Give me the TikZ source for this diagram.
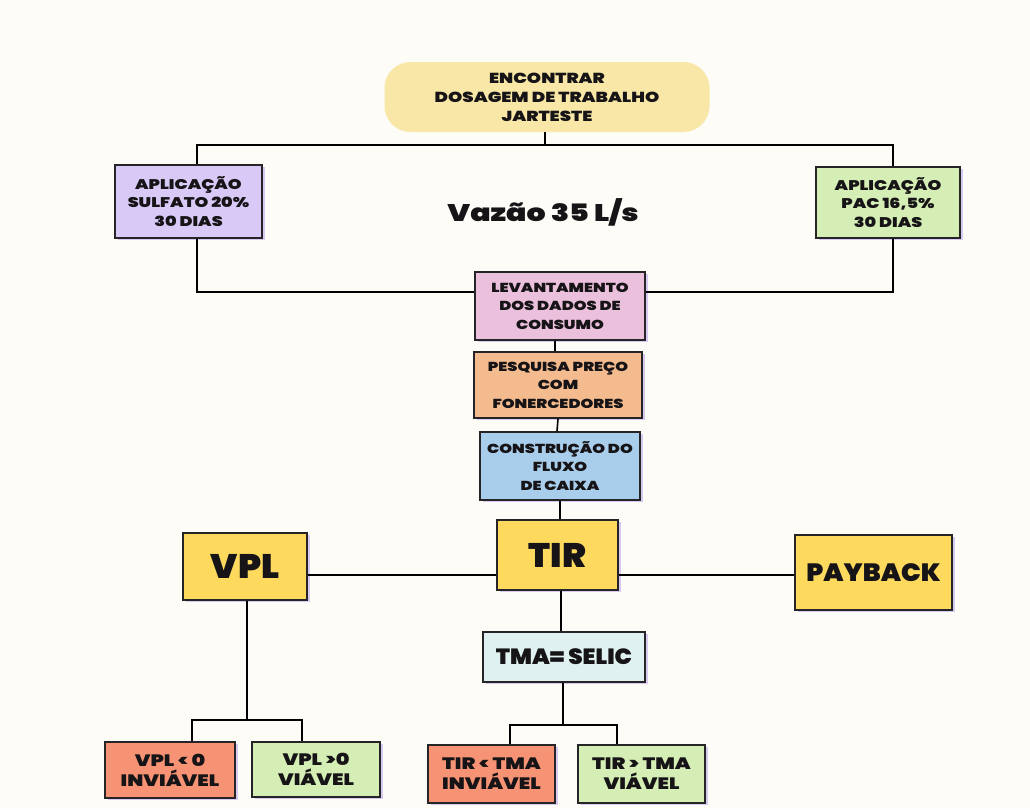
\documentclass[tikz,border=0pt]{standalone}
\usepackage{fontspec}
\usetikzlibrary{shadows}
\newfontfamily\heavyfont{Poppins Black}[FakeStretch=1.25]
\newfontfamily\titlefont{Poppins Black}[FakeStretch=1.05]

\definecolor{paper}{RGB}{253,252,247}
\definecolor{ink}{RGB}{38,36,38}
\definecolor{blobyellow}{RGB}{248,231,166}
\definecolor{lavender}{RGB}{216,201,247}
\definecolor{leafgreen}{RGB}{213,238,181}
\definecolor{rosepink}{RGB}{235,192,220}
\definecolor{peach}{RGB}{244,187,142}
\definecolor{skyblue}{RGB}{169,206,236}
\definecolor{sunyellow}{RGB}{253,218,94}
\definecolor{mint}{RGB}{223,242,241}
\definecolor{coral}{RGB}{246,147,116}
\definecolor{shadowviolet}{RGB}{205,190,240}
\definecolor{textblack}{RGB}{22,20,22}

\tikzset{
  card/.style={draw=ink, line width=1.6pt, align=center, inner sep=0pt,
    text=textblack,
    drop shadow={shadow xshift=3pt, shadow yshift=-2pt, fill=shadowviolet, opacity=0.8}},
  small/.style={font=\heavyfont\fontsize{14}{18.5}\selectfont, text=textblack},
  chain/.style={font=\heavyfont\fontsize{13}{18.5}\selectfont, text=textblack},
  result/.style={font=\heavyfont\fontsize{16.5}{20}\selectfont},
  big/.style={font=\titlefont\fontsize{34}{36}\selectfont},
  link/.style={draw=black, line width=1.6pt},
}

\begin{document}
\begin{tikzpicture}[x=1pt, y=-1pt]
  \fill[paper] (0,0) rectangle (1030,809);
  \useasboundingbox (0,0) rectangle (1030,809);

  % helper levels for the horizontal bars
  \coordinate (topbar) at (0,145);
  \coordinate (midbar) at (0,575);
  \coordinate (vplbar) at (0,720);
  \coordinate (tirbar) at (0,725);

  % goal
  \node[font=\heavyfont\fontsize{14.5}{19}\selectfont, text=textblack,
        fill=blobyellow, rounded corners=26pt, minimum width=325pt,
        minimum height=70pt, inner sep=0pt, align=center] (goal) at (547,97)
        {ENCONTRAR\\DOSAGEM DE TRABALHO\\JARTESTE};

  % the two coagulants
  \node[card, small, fill=lavender, minimum width=147pt, minimum height=73pt]
    (sulf) at (188.5,201.5) {APLICAÇÃO\\SULFATO 20\%\\30 DIAS};
  \node[card, small, fill=leafgreen, minimum width=144pt, minimum height=71pt]
    (pac) at (888,202.5) {APLICAÇÃO\\PAC 16,5\%\\30 DIAS};

  \node[font=\heavyfont\fontsize{24}{26}\selectfont, text=textblack] (flow) at (543,212) {Vazão 35 L/s};

  % central chain
  \node[card, chain, fill=rosepink, minimum width=170pt, minimum height=68pt]
    (lev) at (560,306) {LEVANTAMENTO\\DOS DADOS DE\\CONSUMO};
  \node[card, chain, fill=peach, minimum width=168pt, minimum height=66pt]
    (pesq) at (558,385) {PESQUISA PREÇO\\COM\\FONERCEDORES};
  \node[card, chain, fill=skyblue, minimum width=160pt, minimum height=68pt]
    (fluxo) at (560,466) {CONSTRUÇÃO DO\\FLUXO\\DE CAIXA};

  % indicators
  \node[card, big, fill=sunyellow, minimum width=121pt, minimum height=70pt]
    (tir) at (557.5,555) {TIR};
  \node[card, big, fill=sunyellow, minimum width=124pt, minimum height=67pt]
    (vpl) at (245,566.5) {VPL};
  \node[card, font=\titlefont\fontsize{25}{28}\selectfont, fill=sunyellow,
        minimum width=157pt, minimum height=75pt]
    (pay) at (873.5,572.5) {PAYBACK};

  \node[card, font=\titlefont\fontsize{22}{24}\selectfont, fill=mint,
        minimum width=162pt, minimum height=50pt]
    (tma) at (564,657) {TMA= SELIC};

  % decisions
  \node[card, result, fill=coral, minimum width=130pt, minimum height=56pt]
    (vneg) at (170,770) {VPL < 0\\INVIÁVEL};
  \node[card, result, fill=leafgreen, minimum width=128pt, minimum height=55pt]
    (vpos) at (316,769.5) {VPL >0\\VIÁVEL};
  \node[card, result, fill=coral, minimum width=127pt, minimum height=58pt]
    (tneg) at (491.5,774) {TIR < TMA\\INVIÁVEL};
  \node[card, result, fill=leafgreen, minimum width=127pt, minimum height=58pt]
    (tpos) at (641.5,774) {TIR > TMA\\VIÁVEL};

  % connectors
  \draw[link] ([xshift=-2pt]goal.south) -- ([xshift=-2pt]goal.south |- topbar);
  \draw[link] ([xshift=8.5pt]sulf.north) -- ([xshift=8.5pt]sulf.north |- topbar)
              -- ([xshift=5pt]pac.north |- topbar) -- ([xshift=5pt]pac.north);
  \draw[link] ([xshift=8.5pt]sulf.south) |- ([yshift=14pt]lev.west);
  \draw[link] ([xshift=5pt]pac.south) |- ([yshift=14pt]lev.east);
  \draw[link] ([xshift=-5pt]lev.south) -- ([xshift=-3pt]pesq.north);
  \draw[link] (pesq.south) -- ([xshift=-3pt]fluxo.north);
  \draw[link] (fluxo.south) -- (tir.north -| fluxo.south);
  \draw[link] (vpl.east |- midbar) -- (tir.west |- midbar);
  \draw[link] (tir.east |- midbar) -- (pay.west |- midbar);
  \draw[link] ([xshift=3.5pt]tir.south) -- ([xshift=3.5pt]tir.south |- tma.north);
  \draw[link] ([xshift=2pt]vpl.south) -- ([xshift=2pt]vpl.south |- vplbar);
  \draw[link] ([xshift=22pt]vneg.north) |- ([xshift=-14pt]vpos.north |- vplbar)
              -- ([xshift=-14pt]vpos.north);
  \draw[link] ([xshift=-1pt]tma.south) -- ([xshift=-1pt]tma.south |- tirbar);
  \draw[link] ([xshift=18.5pt]tneg.north) |- ([xshift=-24.5pt]tpos.north |- tirbar)
              -- ([xshift=-24.5pt]tpos.north);
\end{tikzpicture}
\end{document}
